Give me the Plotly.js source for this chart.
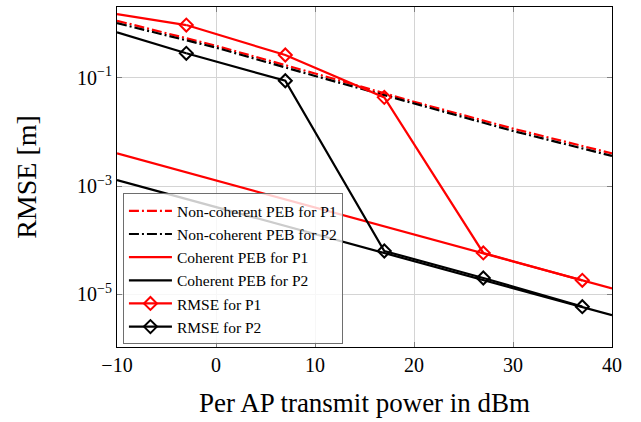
<!DOCTYPE html>
<html>
<head>
<meta charset="utf-8">
<script src="https://cdn.plot.ly/plotly-3.0.1.min.js"></script>
<style>html,body{margin:0;padding:0;background:#fff;}#chart{width:641px;height:422px;}</style>
</head>
<body>
<div id="chart"></div>
<script>
// Per AP transmit power (dBm)
const pebX = [-10, 0, 10, 20, 30, 40];
const nonCohP1 = [1.13, 0.39, 0.12, 0.036, 0.0115, 0.0040];
const nonCohP2 = [1.02, 0.36, 0.108, 0.033, 0.0104, 0.0036];
const cohP1 = [4.0e-3, 1.27e-3, 4.03e-4, 1.28e-4, 4.05e-5, 1.28e-5];
const cohP2 = [1.29e-3, 4.07e-4, 1.29e-4, 4.07e-5, 1.29e-5, 4.1e-6];

const rmseX = [-3, 7, 17, 27, 37];
const rmseP1 = [0.94, 0.263, 0.0434, 5.8e-5, 1.81e-5];
const rmseP2 = [0.283, 0.088, 6.3e-5, 2.0e-5, 5.9e-6];
// leading segment of the RMSE curves (left of the first marker)
const leadX = [-10, -3];
const leadP1 = [1.50, 0.94];
const leadP2 = [0.69, 0.283];

const yTickVals = [1e-5, 1e-3, 1e-1];
const yTickText = ['10<sup>−5</sup>', '10<sup>−3</sup>', '10<sup>−1</sup>'];
const xTickVals = [-10, 0, 10, 20, 30, 40];
const xTickText = ['−10', '0', '10', '20', '30', '40'];

const RED = '#ff0000', BLACK = '#000000';
const DASHDOT = '10px,3px,2px,3px';
const FONT = 'Liberation Serif, Times New Roman, serif';

const traces = [
  {x: pebX, y: nonCohP1, mode: 'lines', name: 'Non-coherent PEB for P1', line: {color: RED, width: 2.2, dash: DASHDOT}},
  {x: pebX, y: nonCohP2, mode: 'lines', name: 'Non-coherent PEB for P2', line: {color: BLACK, width: 2.2, dash: DASHDOT}},
  {x: pebX, y: cohP1, mode: 'lines', name: 'Coherent PEB for P1', line: {color: RED, width: 2.2}},
  {x: pebX, y: cohP2, mode: 'lines', name: 'Coherent PEB for P2', line: {color: BLACK, width: 2.2}},
  {x: leadX, y: leadP1, mode: 'lines', showlegend: false, hoverinfo: 'skip', line: {color: RED, width: 2.2}},
  {x: rmseX, y: rmseP1, mode: 'lines+markers', name: 'RMSE for P1', line: {color: RED, width: 2.2},
   marker: {symbol: 'diamond-open', size: 10, color: RED, line: {color: RED, width: 2}}},
  {x: leadX, y: leadP2, mode: 'lines', showlegend: false, hoverinfo: 'skip', line: {color: BLACK, width: 2.2}},
  {x: rmseX, y: rmseP2, mode: 'lines+markers', name: 'RMSE for P2', line: {color: BLACK, width: 2.2},
   marker: {symbol: 'diamond-open', size: 10, color: BLACK, line: {color: BLACK, width: 2}}}
];

const layout = {
  width: 641, height: 422,
  margin: {l: 117, r: 29, t: 7, b: 75, pad: 0},
  paper_bgcolor: '#ffffff', plot_bgcolor: '#ffffff',
  font: {family: FONT, color: '#000', size: 20},
  showlegend: true,
  legend: {
    x: 0.012, y: 0.008, xanchor: 'left', yanchor: 'bottom',
    bgcolor: 'rgba(255,255,255,0.8)', bordercolor: '#6e6e6e', borderwidth: 1,
    font: {family: FONT, size: 15.5, color: '#000'},
    itemwidth: 43, tracegroupgap: 0,
    entrywidth: 185, entrywidthmode: 'pixels'
  },
  xaxis: {
    range: [-10, 40], tickvals: xTickVals, ticktext: xTickText,
    showgrid: true, gridcolor: '#d4d4d4', gridwidth: 1,
    showline: true, linecolor: '#000', linewidth: 1, mirror: 'ticks',
    ticks: 'inside', ticklen: 5, tickcolor: '#808080', tickwidth: 1,
    zeroline: false,
    tickfont: {family: FONT, size: 20},
    title: {text: 'Per AP transmit power in dBm', font: {family: FONT, size: 27}, standoff: 18}
  },
  yaxis: {
    type: 'log', range: [-5.974, 0.307],
    tickvals: yTickVals, ticktext: yTickText,
    showgrid: true, gridcolor: '#d4d4d4', gridwidth: 1,
    showline: true, linecolor: '#000', linewidth: 1, mirror: 'ticks',
    ticks: 'inside', ticklen: 5, tickcolor: '#808080', tickwidth: 1,
    zeroline: false,
    tickfont: {family: FONT, size: 20},
    title: {text: 'RMSE [m]', font: {family: FONT, size: 28}, standoff: 32}
  }
};

Plotly.newPlot('chart', traces, layout, {displayModeBar: false, staticPlot: true});
</script>
</body>
</html>
